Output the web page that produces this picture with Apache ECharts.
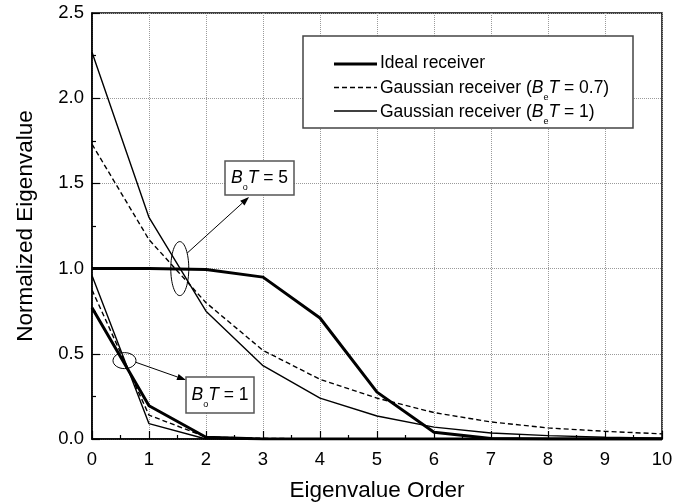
<!DOCTYPE html>
<html>
<head>
<meta charset="utf-8">
<script src="https://cdn.jsdelivr.net/npm/echarts@6/dist/echarts.min.js"></script>
<style>
  html, body { margin: 0; padding: 0; background: #fff; }
  #chart { width: 695px; height: 504px; }
</style>
</head>
<body>
<div id="chart"></div>
<script>
// Eigenvalue order (x axis)
const order = [0, 1, 2, 3, 4, 5, 6, 7, 8, 9, 10];

// B_oT = 5
const ideal5   = [1.00, 1.00, 0.995, 0.95, 0.71, 0.275, 0.04, 0.003, 0, 0, 0];
const gauss07_5 = [1.73, 1.17, 0.80, 0.52, 0.35, 0.24, 0.155, 0.10, 0.065, 0.045, 0.03];
const gauss1_5  = [2.27, 1.30, 0.75, 0.43, 0.24, 0.135, 0.07, 0.035, 0.02, 0.01, 0.005];

// B_oT = 1
const ideal1   = [0.77, 0.195, 0.01, 0, 0, 0, 0, 0, 0, 0, 0];
const gauss07_1 = [0.875, 0.14, 0.012, 0.004, 0, 0, 0, 0, 0, 0, 0];
const gauss1_1  = [0.96, 0.09, 0.0, 0, 0, 0, 0, 0, 0, 0, 0];

// Axis ticks
const xTicks = { min: 0, max: 10, step: 1 };
const yTicks = { min: 0, max: 2.5, step: 0.5 };

const FONT = '"Liberation Sans", Arial, Helvetica, sans-serif';

const pairs = ys => order.map((x, i) => [x, ys[i]]);

const idealStyle = { color: '#000', width: 3, type: 'solid' };
const dashStyle  = { color: '#000', width: 1.4, type: [5, 3] };
const thinStyle  = { color: '#000', width: 1.4, type: 'solid' };

function lineSeries(name, ys, style) {
  return {
    type: 'line', name: name, data: pairs(ys),
    showSymbol: false, symbol: 'none', silent: true,
    lineStyle: style, itemStyle: { color: '#000' }, z: 3
  };
}

const option = {
  animation: false,
  backgroundColor: '#fff',
  grid: {
    left: 92, right: 33, top: 13, bottom: 65,
    outerBoundsMode: 'none', containLabel: false,
    show: true, borderColor: '#000', borderWidth: 1.5, backgroundColor: 'transparent'
  },
  xAxis: {
    type: 'value', min: xTicks.min, max: xTicks.max, interval: xTicks.step,
    name: 'Eigenvalue Order', nameLocation: 'middle', nameGap: 40,
    nameTextStyle: { fontFamily: FONT, fontSize: 22.5, color: '#000' },
    axisLine: { lineStyle: { color: '#000', width: 1.5 } },
    axisTick: { inside: true, length: 8, lineStyle: { color: '#000', width: 1.2 } },
    minorTick: { show: true, splitNumber: 2, length: 4, lineStyle: { color: '#000', width: 1.2 } },
    axisLabel: { fontFamily: FONT, fontSize: 18.5, color: '#000', margin: 11 },
    splitLine: { show: true, lineStyle: { color: '#9a9a9a', width: 1, type: 'dotted' } }
  },
  yAxis: {
    type: 'value', min: yTicks.min, max: yTicks.max, interval: yTicks.step,
    name: 'Normalized Eigenvalue', nameLocation: 'middle', nameGap: 55,
    nameTextStyle: { fontFamily: FONT, fontSize: 22.5, color: '#000' },
    axisLine: { lineStyle: { color: '#000', width: 1.5 } },
    axisTick: { inside: true, length: 8, lineStyle: { color: '#000', width: 1.2 } },
    minorTick: { show: true, splitNumber: 2, length: 4, lineStyle: { color: '#000', width: 1.2 } },
    axisLabel: { fontFamily: FONT, fontSize: 18.5, color: '#000', margin: 8,
                 formatter: v => v.toFixed(1) },
    splitLine: { show: true, lineStyle: { color: '#9a9a9a', width: 1, type: 'dotted' } }
  },
  series: [
    lineSeries('Ideal receiver (BoT=5)', ideal5, idealStyle),
    lineSeries('Gaussian receiver (BeT=0.7, BoT=5)', gauss07_5, dashStyle),
    lineSeries('Gaussian receiver (BeT=1, BoT=5)', gauss1_5, thinStyle),
    lineSeries('Ideal receiver (BoT=1)', ideal1, idealStyle),
    lineSeries('Gaussian receiver (BeT=0.7, BoT=1)', gauss07_1, dashStyle),
    lineSeries('Gaussian receiver (BeT=1, BoT=1)', gauss1_1, thinStyle)
  ]
};

const chart = echarts.init(document.getElementById('chart'), null, { renderer: 'canvas' });
chart.setOption(option);

const px = p => chart.convertToPixel({ gridIndex: 0 }, p);

// Rich text styles shared by the legend and the B_oT labels
const rich = {
  n: { fontFamily: FONT, fontSize: 17.5, fill: '#000', lineHeight: 28 },
  i: { fontFamily: FONT, fontSize: 17.5, fontStyle: 'italic', fill: '#000', lineHeight: 28 },
  s: { fontFamily: FONT, fontSize: 9, fill: '#000', lineHeight: 8, verticalAlign: 'bottom' }
};

function arrow(x1, y1, x2, y2) {
  const a = Math.atan2(y2 - y1, x2 - x1), L = 9, W = 3.2;
  const bx = x2 - L * Math.cos(a), by = y2 - L * Math.sin(a);
  const nx = -Math.sin(a), ny = Math.cos(a);
  return [
    { type: 'line', z: 100, silent: true, shape: { x1: x1, y1: y1, x2: bx, y2: by },
      style: { stroke: '#000', lineWidth: 1 } },
    { type: 'polygon', z: 100, silent: true,
      shape: { points: [[x2, y2], [bx + nx * W, by + ny * W], [bx - nx * W, by - ny * W]] },
      style: { fill: '#000' } }
  ];
}

function ellipsePoint(c, rx, ry, deg) {
  const t = deg * Math.PI / 180;
  return [c[0] + rx * Math.cos(t), c[1] + ry * Math.sin(t)];
}

function boxLabel(x, y, w, h, value) {
  return [
    { type: 'rect', z: 100, silent: true, shape: { x: x, y: y, width: w, height: h },
      style: { fill: '#fff', stroke: '#555', lineWidth: 1.5 } },
    { type: 'text', z: 101, silent: true, x: x + w / 2, y: y + h / 2,
      style: { text: '{i|B}{s|o}{i|T}{n| = ' + value + '}', rich: rich,
               align: 'center', verticalAlign: 'middle' } }
  ];
}

// Ellipses marking each group of curves
const c5 = px([1.54, 1.0]);
const c1 = px([0.57, 0.46]);
const e5 = { rx: 9, ry: 27 };
const e1 = { rx: 11.5, ry: 8 };
const s5 = ellipsePoint(c5, e5.rx, e5.ry, -35);
const s1 = ellipsePoint(c1, e1.rx, e1.ry, 12);

// Legend layout
const legX = 303, legY = 36, legW = 330, legH = 92;
const sampleX1 = 334, sampleX2 = 377, textX = 380;
const legendRows = [
  { y: 64, ty: 63.5, style: idealStyle, text: '{n|Ideal receiver}' },
  { y: 87.5, ty: 88, style: dashStyle, text: '{n|Gaussian receiver (}{i|B}{s|e}{i|T}{n| = 0.7)}' },
  { y: 111, ty: 112.5, style: thinStyle, text: '{n|Gaussian receiver (}{i|B}{s|e}{i|T}{n| = 1)}' }
];

const graphics = [
  { type: 'ellipse', z: 100, silent: true,
    shape: { cx: c5[0], cy: c5[1], rx: e5.rx, ry: e5.ry },
    style: { fill: 'none', stroke: '#000', lineWidth: 1 } },
  { type: 'ellipse', z: 100, silent: true,
    shape: { cx: c1[0], cy: c1[1], rx: e1.rx, ry: e1.ry },
    style: { fill: 'none', stroke: '#000', lineWidth: 1 } },
  ...arrow(s5[0], s5[1], 249, 197),
  ...arrow(s1[0], s1[1], 186, 380),
  ...boxLabel(225, 161, 69, 34, '5'),
  ...boxLabel(186, 377, 68, 36, '1'),
  { type: 'rect', z: 100, silent: true, shape: { x: legX, y: legY, width: legW, height: legH },
    style: { fill: '#fff', stroke: '#444', lineWidth: 1.5 } }
];

legendRows.forEach(r => {
  graphics.push({
    type: 'line', z: 101, silent: true,
    shape: { x1: sampleX1, y1: r.y, x2: sampleX2, y2: r.y },
    style: { stroke: '#000', lineWidth: r.style.width,
             lineDash: Array.isArray(r.style.type) ? r.style.type : null }
  });
  graphics.push({
    type: 'text', z: 101, silent: true, x: textX, y: r.ty,
    style: { text: r.text, rich: rich, align: 'left', verticalAlign: 'middle' }
  });
});

chart.setOption({ graphic: graphics });
</script>
</body>
</html>
